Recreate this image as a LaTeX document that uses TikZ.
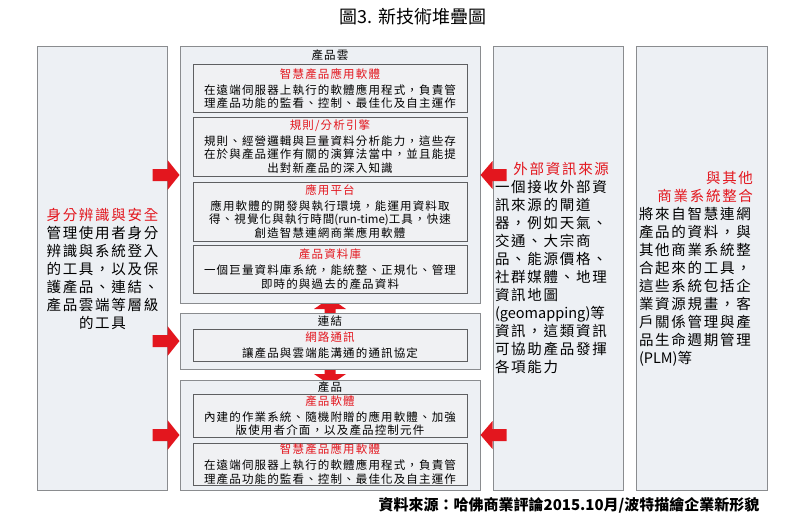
\documentclass[tikz,border=0pt]{standalone}
\usepackage{fontspec}
\setmainfont{Noto Sans CJK TC}
\newfontfamily\boxfont[LetterSpace=10]{Noto Sans CJK TC}
\newfontfamily\colfont[LetterSpace=12]{Noto Sans CJK TC}
\usetikzlibrary{calc,positioning}
\definecolor{stackred}{HTML}{E3161E}
\definecolor{boxfill}{HTML}{EDF0F4}
\definecolor{layerfill}{HTML}{F0F1F3}
\definecolor{boxline}{HTML}{8A8C8F}
\definecolor{innerline}{HTML}{5E5F61}

\begin{document}
\begin{tikzpicture}[x=1pt,y=-1pt]
      \tikzstyle{column}=[draw=boxline,fill=boxfill,line width=1pt,minimum width=130pt,minimum height=443pt,inner sep=0pt]
      \tikzstyle{panel}=[draw=boxline,fill=boxfill,line width=1pt,minimum width=300pt,inner sep=0pt]
      \tikzstyle{layer}=[draw=innerline,fill=layerfill,line width=1pt,minimum width=274pt,inner sep=0pt,align=center,font=\boxfont\fontsize{11.5}{13.5}\selectfont]
      \tikzstyle{caption}=[inner sep=0pt,font=\boxfont\fontsize{11.5}{13.5}\selectfont]
      \tikzstyle{coltext}=[inner sep=0pt,font=\colfont\fontsize{14.5}{18}\selectfont]
      \tikzstyle{blockarrow}=[fill=stackred,draw=none]
      \useasboundingbox (0,0) rectangle (800,527);
      %%% title and source
      \node (title) at (413,17) {\fontsize{18}{20}\selectfont 圖3. 新技術堆疊圖};
      \node (source) [anchor=east] at (763,505) {\bfseries\fontsize{15}{17}\selectfont 資料來源：哈佛商業評論2015.10月/波特描繪企業新形貌};
      %%% side columns
      \node (ident) at (102,268.5) [column] {};
      \node (extern) at (558,268.5) [column] {};
      \node (integr) at (701.5,268.5) [column,minimum width=131pt] {};
      \node (identtxt) at (102.5,268.5) [coltext,align=center] {\textcolor{stackred}{身分辨識與安全}\\管理使用者身分\\辨識與系統登入\\的工具，以及保\\護產品、連結、\\產品雲端等層級\\的工具};
      \node (externtxt) at (552,267.5) [coltext,text width=114pt,align=left] {\hspace*{\fill}\textcolor{stackred}{外部資訊來源}\\一個接收外部資\\訊來源的閘道\\器，例如天氣、\\交通、大宗商\\品、能源價格、\\社群媒體、地理\\資訊地圖\\{\rmfamily(geomapping)}等\\資訊，這類資訊\\可協助產品發揮\\各項能力};
      \node (integrtxt) at (696,269) [coltext,text width=114pt,align=left] {\hspace*{\fill}\hspace*{11pt}\textcolor{stackred}{與其他}\hspace*{\fill}\\\hspace*{\fill}\hspace*{11pt}\textcolor{stackred}{商業系統整合}\hspace*{\fill}\\將來自智慧連網\\產品的資料，與\\其他商業系統整\\合起來的工具，\\這些系統包括企\\業資源規畫，客\\戶關係管理與產\\品生命週期管理\\{\rmfamily(PLM)}等};
      %%% vertical link arrow (behind the stack)
      \coordinate (vtip) at (330,298);
      \fill[blockarrow] (vtip) -- ++(16,11) -- ++(-10.5,0) -- ++(0,65) -- ++(10.5,0) -- ++(-16,11) -- ++(-16,-11) -- ++(10.5,0) -- ++(0,-65) -- ++(-10.5,0) -- cycle;
      %%% product cloud
      \node (cloud) at (330,175) [panel,minimum height=256pt] {};
      \node (cloudlbl) at (330,55) [caption] {產品雲};
      \node (apps) at (330,88.5) [layer,minimum height=47pt] {\textcolor{stackred}{智慧產品應用軟體}\\[2.5pt]在遠端伺服器上執行的軟體應用程式，負責管\\理產品功能的監看、控制、最佳化及自主運作};
      \node (rules) at (330,146.5) [layer,minimum height=59pt] {\textcolor{stackred}{規則/分析引擎}\\[2.5pt]規則、經營邏輯與巨量資料分析能力，這些存\\在於與產品運作有關的演算法當中，並且能提\\出對新產品的深入知識};
      \node (platform) at (330,211.5) [layer,minimum height=59pt] {\textcolor{stackred}{應用平台}\\[2.5pt]應用軟體的開發與執行環境，能運用資料取\\得、視覺化與執行時間{\rmfamily(run-time)}工具，快速\\創造智慧連網商業應用軟體};
      \node (database) at (330,269) [layer,minimum height=48pt] {\textcolor{stackred}{產品資料庫}\\[2.5pt]一個巨量資料庫系統，能統整、正規化、管理\\即時的與過去的產品資料};
      %%% connectivity
      \node (link) at (330,341) [panel,minimum height=56pt] {};
      \node (linklbl) at (330,321) [caption] {連結};
      \node (network) at (330,345) [layer,minimum height=32pt] {\textcolor{stackred}{網路通訊}\\[2.5pt]讓產品與雲端能溝通的通訊協定};
      %%% product
      \node (product) at (330,435) [panel,minimum height=110pt] {};
      \node (productlbl) at (330,387) [caption] {產品};
      \node (prodsw) at (330,415.5) [layer,minimum height=43pt] {\textcolor{stackred}{產品軟體}\\[2.5pt]內建的作業系統、隨機附贈的應用軟體、加強\\版使用者介面，以及產品控制元件};
      \node (prodapps) at (330,464) [layer,minimum height=42pt] {\textcolor{stackred}{智慧產品應用軟體}\\[2.5pt]在遠端伺服器上執行的軟體應用程式，負責管\\理產品功能的監看、控制、最佳化及自主運作};
      %%% side arrows
      \foreach \b in {cloud,link,product}
        \fill[blockarrow] (\b.west) -- ++(-12,-15) -- ++(0,9) -- ++(-15,0) -- ++(0,12) -- ++(15,0) -- ++(0,9) -- cycle;
      \foreach \b in {cloud,product}
        \fill[blockarrow] (\b.east) -- ++(12,-14) -- ++(0,8) -- ++(14,0) -- ++(0,12) -- ++(-14,0) -- ++(0,8) -- cycle;
\end{tikzpicture}
\end{document}
